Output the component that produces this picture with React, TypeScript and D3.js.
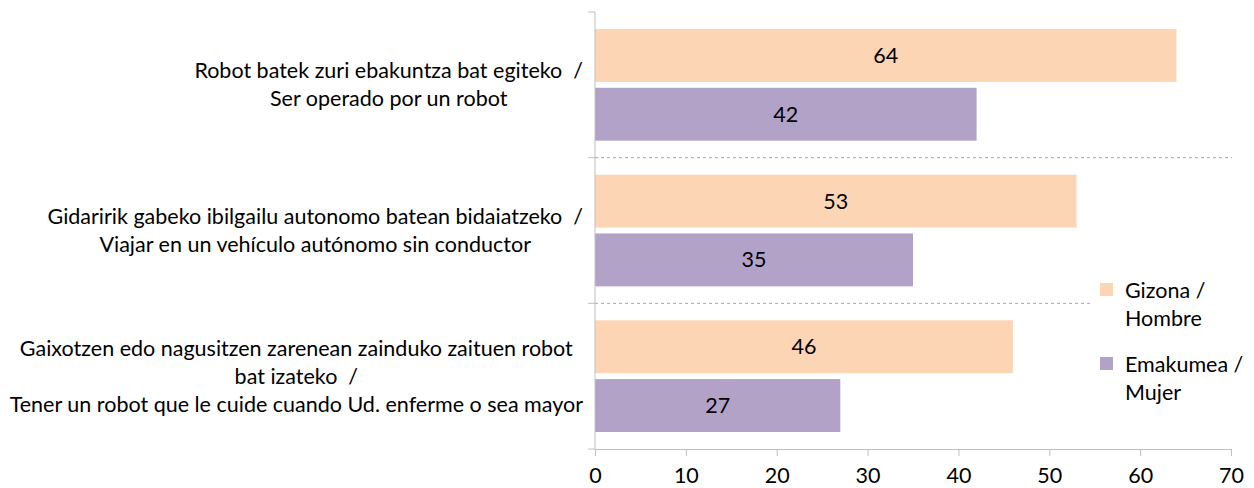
import * as d3 from "d3"
import { useEffect, useRef } from "react"

const categories = [
  ["Robot batek zuri ebakuntza bat egiteko  /", "Ser operado por un robot"],
  ["Gidaririk gabeko ibilgailu autonomo batean bidaiatzeko  /", "Viajar en un vehículo autónomo sin conductor"],
  ["Gaixotzen edo nagusitzen zarenean zainduko zaituen robot", "bat izateko  /", "Tener un robot que le cuide cuando Ud. enferme o sea mayor"],
]
const series = ["Gizona / Hombre", "Emakumea / Mujer"]
const legendLines = [["Gizona /", "Hombre"], ["Emakumea /", "Mujer"]]
const gizona = [64, 53, 46]
const emakumea = [42, 35, 27]
const xTicks = [0, 10, 20, 30, 40, 50, 60, 70]
const colors = ["#FCD5B5", "#B3A2C7"]

const W = 1254
const H = 488
const FONT = "Lato, sans-serif"
const FS = 21.5

const App = () => {
  const ref = useRef<SVGSVGElement>(null)

  useEffect(() => {
    const svg = d3.select(ref.current)
    svg.selectAll("*").remove()

    const left = 595, right = 1231, top = 12, bottom = 449
    const x = d3.scaleLinear().domain([0, 70]).range([left, right])
    const y = d3.scaleBand().domain(d3.range(categories.length).map(String)).range([top, bottom])
    const bw = y.bandwidth()
    const y1 = d3.scaleBand().domain(series).range([17, bw - 17]).paddingInner(0.1)

    const values = [gizona, emakumea]

    // dashed separators
    d3.range(1, categories.length).forEach(i => {
      svg.append("line")
        .attr("x1", left).attr("x2", right + 1)
        .attr("y1", y(String(i))!).attr("y2", y(String(i))!)
        .attr("stroke", "#a6a6a6").attr("stroke-width", 1)
        .attr("stroke-dasharray", "3,3")
    })

    // bars
    categories.forEach((_, ci) => {
      series.forEach((s, si) => {
        const v = values[si][ci]
        const by = y(String(ci))! + y1(s)!
        svg.append("rect")
          .attr("x", x(0)).attr("y", by)
          .attr("width", x(v) - x(0)).attr("height", y1.bandwidth())
          .attr("fill", colors[si])
        svg.append("text")
          .attr("x", (x(0) + x(v)) / 2).attr("y", by + y1.bandwidth() / 2)
          .attr("dy", "0.35em").attr("text-anchor", "middle")
          .attr("font-family", FONT).attr("font-size", FS).attr("fill", "#000")
          .text(v)
      })
    })

    // left axis
    svg.append("line")
      .attr("x1", left).attr("x2", left).attr("y1", top).attr("y2", bottom)
      .attr("stroke", "#bfbfbf")
    d3.range(categories.length + 1).forEach(i => {
      const ty = top + i * bw
      svg.append("line")
        .attr("x1", left - 7).attr("x2", left).attr("y1", ty).attr("y2", ty)
        .attr("stroke", "#bfbfbf")
    })

    // bottom axis
    const gx = svg.append("g").attr("transform", `translate(0,${bottom})`)
      .call(d3.axisBottom(x).tickValues(xTicks).tickSize(7).tickSizeOuter(0).tickPadding(12))
    gx.select(".domain").attr("stroke", "#bfbfbf")
    gx.selectAll(".tick line").attr("stroke", "#bfbfbf")
    gx.selectAll(".tick text").attr("font-family", FONT).attr("font-size", FS).attr("fill", "#000")

    // category labels
    const lineH = 28
    categories.forEach((lines, ci) => {
      const cy = y(String(ci))! + bw / 2
      const g = svg.append("g")
      const texts = lines.map((l, li) =>
        g.append("text")
          .attr("y", cy + (li - (lines.length - 1) / 2) * lineH)
          .attr("dy", "0.35em").attr("text-anchor", "middle")
          .style("white-space", "pre")
          .attr("font-family", FONT).attr("font-size", FS).attr("fill", "#000")
          .text(l)
      )
      const maxW = d3.max(texts, t => (t.node() as SVGTextElement).getComputedTextLength()) || 0
      texts.forEach(t => t.attr("x", 583 - maxW / 2))
    })

    // legend
    const lg = svg.append("g")
    lg.append("rect").attr("x", 1092).attr("y", 270).attr("width", 160).attr("height", 145).attr("fill", "#fff")
    legendLines.forEach((lines, i) => {
      const ly = 283 + i * 74
      lg.append("rect").attr("x", 1100).attr("y", ly).attr("width", 13).attr("height", 13).attr("fill", colors[i])
      lines.forEach((l, li) => {
        lg.append("text")
          .attr("x", 1125).attr("y", ly + 7 + li * 28)
          .attr("dy", "0.35em")
          .attr("font-family", FONT).attr("font-size", FS).attr("fill", "#000")
          .text(l)
      })
    })
  }, [])

  return (
    <svg ref={ref} width={W} height={H} style={{ position: "absolute", left: 0, top: 0, background: "#fff" }} />
  )
}

export default App
